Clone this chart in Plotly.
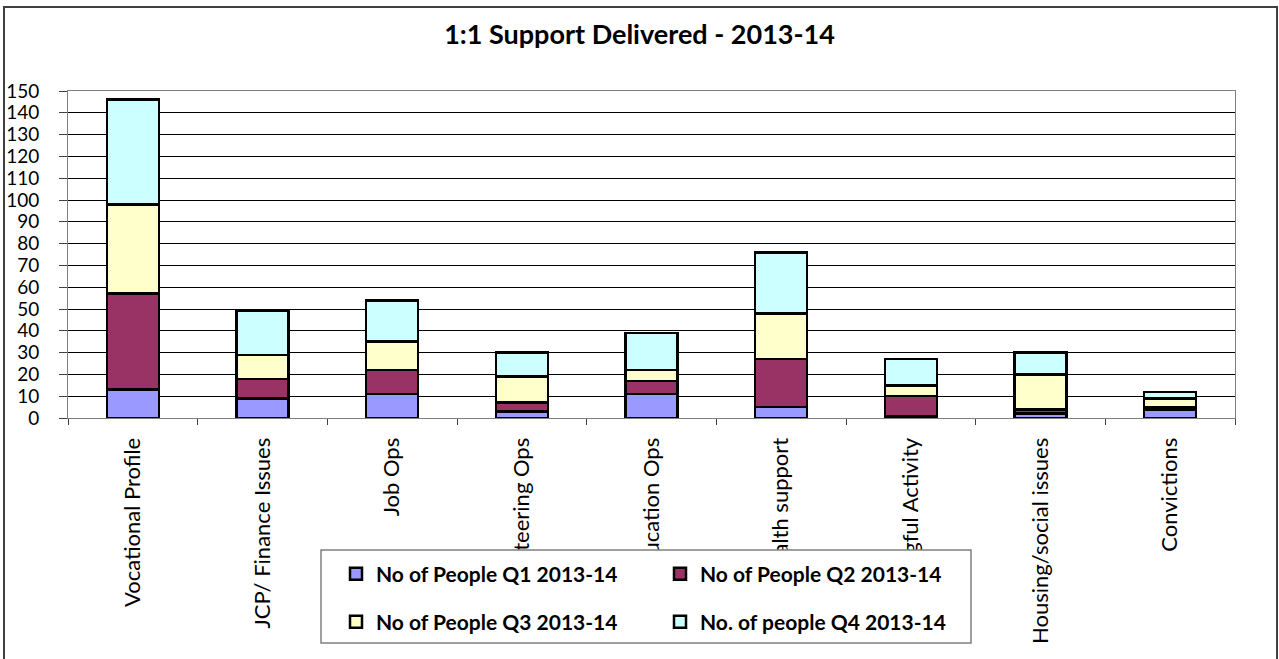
import plotly.graph_objects as go

# Support categories and people counts per quarter
categories = [
    "Vocational Profile",
    "JCP/ Finance Issues",
    "Job Ops",
    "Volunteering Ops",
    "Education Ops",
    "Health support",
    "Meaningful Activity",
    "Housing/social issues",
    "Convictions",
]
q1_people = [13, 9, 11, 3, 11, 5, 1, 2, 4]
q2_people = [44, 9, 11, 4, 6, 22, 9, 2, 1]
q3_people = [41, 11, 13, 12, 5, 21, 5, 16, 4]
q4_people = [48, 20, 19, 11, 17, 28, 12, 10, 3]

series_names = [
    "No of People Q1 2013-14",
    "No of People Q2 2013-14",
    "No of People Q3 2013-14",
    "No. of people Q4 2013-14",
]
series_colors = ["#9999FF", "#993366", "#FFFFCC", "#CCFFFF"]
y_ticks = list(range(0, 151, 10))

W, H = 1279, 659
M_L, M_R, M_T, M_B = 68, 44, 91, 241
PW = W - M_L - M_R
PH = H - M_T - M_B


def px_x(x):
    return (x - M_L) / PW


def px_y(y):
    return (H - M_B - y) / PH


FONT = "Lato"

fig = go.Figure()
for name, vals, color, leg in zip(
    series_names,
    [q1_people, q2_people, q3_people, q4_people],
    series_colors,
    ["legend", "legend", "legend2", "legend2"],
):
    fig.add_trace(
        go.Bar(
            x=categories,
            y=vals,
            name=name,
            legend=leg,
            marker=dict(color=color, line=dict(color="black", width=2.5)),
        )
    )

# chart frame and legend box
fig.add_shape(
    type="rect", xref="paper", yref="paper",
    x0=px_x(4), x1=px_x(1277), y0=px_y(668), y1=px_y(7),
    line=dict(color="#404040", width=2), fillcolor="rgba(0,0,0,0)", layer="below",
)
fig.add_shape(
    type="rect", xref="paper", yref="paper",
    x0=px_x(321), x1=px_x(971), y0=px_y(643), y1=px_y(550),
    line=dict(color="#808080", width=1.5), fillcolor="white", layer="above",
)

legend_common = dict(
    orientation="h",
    xref="container", yref="container",
    xanchor="left", yanchor="middle",
    bgcolor="rgba(0,0,0,0)", borderwidth=0,
    entrywidth=279, entrywidthmode="pixels",
    font=dict(family=FONT, size=21, color="black", weight="bold"),
    traceorder="normal",
)

fig.update_layout(
    width=W, height=H,
    margin=dict(l=M_L, r=M_R, t=M_T, b=M_B, pad=0, autoexpand=False),
    paper_bgcolor="white", plot_bgcolor="white",
    barmode="stack", bargap=0.6,
    title=dict(
        text="1:1 Support Delivered - 2013-14",
        x=0.5, xanchor="center", xref="container",
        y=1 - 35 / H, yanchor="middle", yref="container",
        font=dict(family=FONT, size=27, color="black", weight="bold"),
    ),
    legend=dict(x=336 / W, y=1 - 574 / H, **legend_common),
    legend2=dict(x=336 / W, y=1 - 622 / H, **legend_common),
)

fig.update_xaxes(
    type="category", categoryorder="array", categoryarray=categories,
    tickson="boundaries", ticks="outside", ticklen=6, tickcolor="#404040",
    tickangle=-90, ticklabelstandoff=10, automargin=False,
    showline=True, linecolor="#808080", linewidth=1, mirror=True,
    showgrid=False,
    tickfont=dict(family=FONT, size=22, color="black"),
)
fig.update_yaxes(
    range=[0, 150], tickvals=y_ticks, automargin=False,
    ticks="outside", ticklen=8, tickcolor="#404040", ticklabelstandoff=16,
    showline=True, linecolor="#808080", linewidth=1, mirror=True,
    showgrid=True, gridcolor="black", gridwidth=1,
    zeroline=False,
    tickfont=dict(family=FONT, size=19, color="black"),
)

fig.write_html("out.html", config={"displayModeBar": False})
